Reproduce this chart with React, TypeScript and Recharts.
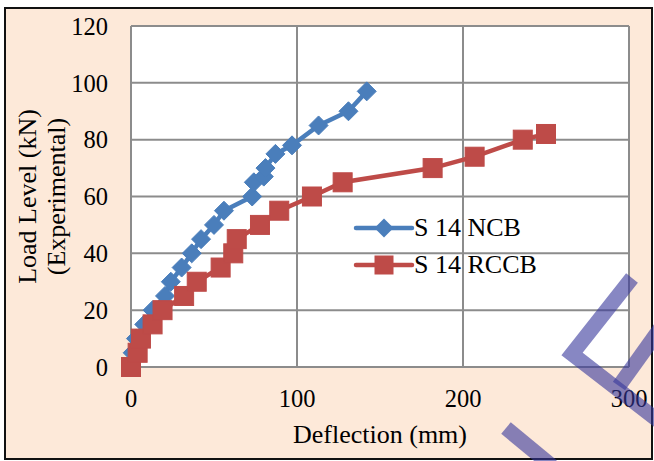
import * as React from "react";
import {
  LineChart,
  Line,
  XAxis,
  YAxis,
  CartesianGrid,
  Legend,
  Label,
} from "recharts";

// values
const ncbDeflection = [0, 1, 3, 8, 13, 20.5, 24, 30.5, 36.6, 42.2, 50, 56, 73, 74, 80, 81, 87, 97, 113, 131, 142];
const ncbLoad = [0, 5, 10, 15, 20, 25, 30, 35, 40, 45, 50, 55, 60, 65, 67, 70, 75, 78, 85, 90, 97];

const rccbDeflection = [0, 4, 6, 13, 19, 32, 39.6, 54, 61.6, 63.7, 77.7, 89.3, 109, 127.5, 181.7, 207, 236, 250];
const rccbLoad = [0, 5, 10, 15, 20, 25, 30, 35, 40, 45, 50, 55, 60, 65, 70, 74, 80, 82];

const xTicks = [0, 100, 200, 300];
const yTicks = [0, 20, 40, 60, 80, 100, 120];

const BLUE = "#4A7EBB";
const RED = "#BE4B48";
const GRID = "#8C8C8C";
const FONT = "Liberation Serif";

const ncbData = ncbDeflection.map((x, i) => ({ x, y: ncbLoad[i] }));
const rccbData = rccbDeflection.map((x, i) => ({ x, y: rccbLoad[i] }));

function DiamondDot(props: any) {
  const { cx, cy } = props;
  if (cx == null || cy == null) return <g />;
  const r = 9.5;
  return (
    <polygon
      points={`${cx},${cy - r} ${cx + r},${cy} ${cx},${cy + r} ${cx - r},${cy}`}
      fill={BLUE}
      stroke={BLUE}
      strokeWidth={1}
    />
  );
}

function SquareDot(props: any) {
  const { cx, cy } = props;
  if (cx == null || cy == null) return <g />;
  const s = 19;
  return <rect x={cx - s / 2} y={cy - s / 2} width={s} height={s} fill={RED} stroke={RED} strokeWidth={1} />;
}

function YTitle({ viewBox }: any) {
  const cy = viewBox ? viewBox.y + viewBox.height / 2 : 197;
  return (
    <g fontFamily={FONT} fontSize={26} fill="#000">
      <text x={36} y={cy} textAnchor="middle" transform={`rotate(-90, 36, ${cy})`}>
        Load Level (kN)
      </text>
      <text x={65} y={cy} textAnchor="middle" transform={`rotate(-90, 65, ${cy})`}>
        (Experimental)
      </text>
    </g>
  );
}

function XTitle({ viewBox }: any) {
  const cx = viewBox ? viewBox.x + viewBox.width / 2 : 380;
  return (
    <text x={cx} y={443} textAnchor="middle" fontFamily={FONT} fontSize={26} fill="#000">
      Deflection (mm)
    </text>
  );
}

function ChartLegend() {
  const items = [
    { name: "S 14 NCB", color: BLUE, shape: "diamond" },
    { name: "S 14 RCCB", color: RED, shape: "square" },
  ];
  return (
    <svg width={200} height={80} style={{ display: "block" }}>
      {items.map((it, i) => {
        const y = 16 + i * 37;
        return (
          <g key={it.name}>
            <line x1={4} x2={60} y1={y} y2={y} stroke={it.color} strokeWidth={4.5} strokeLinecap="round" />
            {it.shape === "diamond" ? (
              <polygon points={`32,${y - 9.5} 41.5,${y} 32,${y + 9.5} 22.5,${y}`} fill={it.color} />
            ) : (
              <rect x={22.5} y={y - 9.5} width={19} height={19} fill={it.color} />
            )}
            <text x={62} y={y + 8} fontFamily={FONT} fontSize={26} fill="#000">
              {it.name}
            </text>
          </g>
        );
      })}
    </svg>
  );
}

export default function App() {
  return (
    <div style={{ position: "absolute", left: 0, top: 0, width: 654, height: 461, background: "#fff", overflow: "hidden", fontFamily: FONT }}>
      <div
        style={{
          position: "absolute",
          left: 4,
          top: 7,
          width: 649,
          height: 453,
          boxSizing: "border-box",
          border: "2px solid #111",
          background: "#FDE9D9",
        }}
      />
      <div style={{ position: "absolute", left: 0, top: 0 }}>
        <LineChart width={654} height={461} margin={{ top: 26, right: 25, left: 0, bottom: 0 }}>
          <CartesianGrid stroke={GRID} strokeWidth={2} fill="#fff" />
          <XAxis
            type="number"
            dataKey="x"
            domain={[0, 300]}
            ticks={xTicks}
            height={94}
            allowDuplicatedCategory={false}
            axisLine={{ stroke: GRID, strokeWidth: 2 }}
            tickLine={false}
            tickMargin={17}
            tick={{ fontSize: 24.5, fill: "#000", fontFamily: FONT }}
          >
            <Label content={<XTitle />} />
          </XAxis>
          <YAxis
            type="number"
            domain={[0, 120]}
            ticks={yTicks}
            width={131}
            axisLine={{ stroke: GRID, strokeWidth: 2 }}
            tickLine={false}
            tickMargin={17}
            tick={{ fontSize: 24.5, fill: "#000", fontFamily: FONT }}
          >
            <Label content={<YTitle />} />
          </YAxis>
          <Legend
            layout="horizontal"
            verticalAlign="middle"
            align="center"
            content={<ChartLegend />}
            wrapperStyle={{ position: "absolute", left: 352, top: 212, width: 200, height: 80 }}
          />
          <Line
            data={ncbData}
            dataKey="y"
            name="S 14 NCB"
            stroke={BLUE}
            strokeWidth={4.5}
            dot={<DiamondDot />}
            activeDot={false}
            isAnimationActive={false}
          />
          <Line
            data={rccbData}
            dataKey="y"
            name="S 14 RCCB"
            stroke={RED}
            strokeWidth={4.5}
            dot={<SquareDot />}
            activeDot={false}
            isAnimationActive={false}
          />
        </LineChart>
      </div>
      <svg width={654} height={461} style={{ position: "absolute", left: 0, top: 0, pointerEvents: "none" }}>
        <g stroke="rgba(55,55,155,0.6)" strokeWidth={15} fill="none" strokeLinejoin="miter">
          <polyline points="632,278 572,354 660,422" />
          <polyline points="662,326 619,386" />
          <polyline points="506,428 552,466" />
        </g>
      </svg>
    </div>
  );
}
